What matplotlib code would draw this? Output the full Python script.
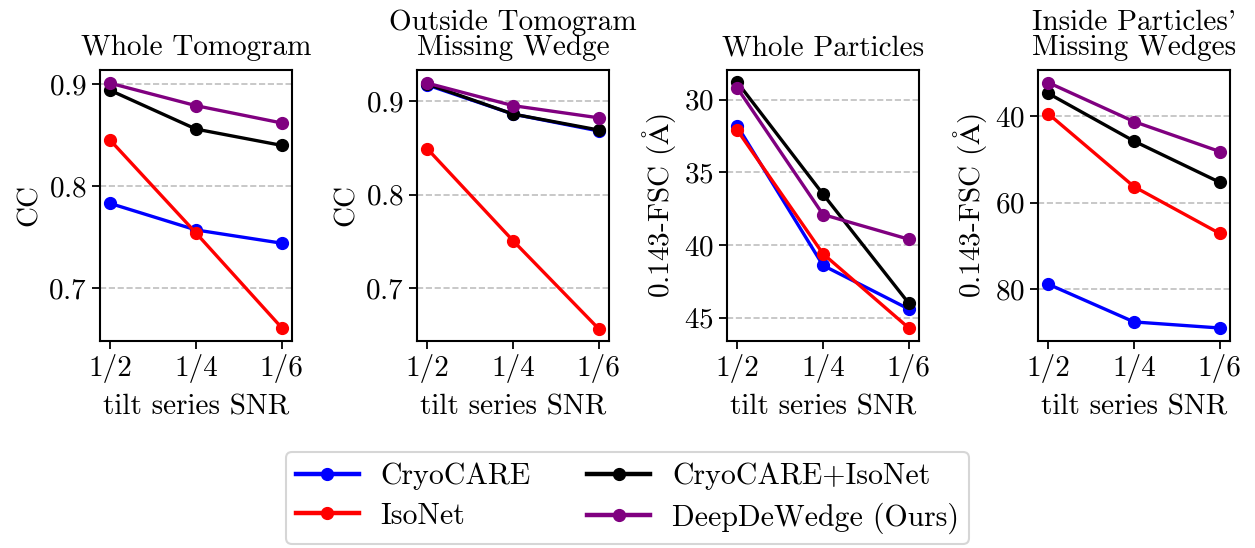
import matplotlib
matplotlib.use("Agg")
import matplotlib.pyplot as plt

plt.rcParams['font.family'] = 'serif'
plt.rcParams['font.serif'] = ['cmr10']
plt.rcParams['mathtext.fontset'] = 'cm'
plt.rcParams['axes.unicode_minus'] = False
plt.rcParams['axes.formatter.use_mathtext'] = True

snr_labels = ['1/2', '1/4', '1/6']
methods = ['CryoCARE', 'IsoNet', 'CryoCARE+IsoNet', 'DeepDeWedge (Ours)']
colors = ['blue', 'red', 'black', 'purple']

titles = ['Whole Tomogram', 'Outside Tomogram\nMissing Wedge',
          'Whole Particles', "Inside Particles'\nMissing Wedges"]
ylabels = ['CC', 'CC', r'0.143-FSC ($\mathrm{\AA}$)', r'0.143-FSC ($\mathrm{\AA}$)']

whole_tomo = {
    'CryoCARE': [0.783, 0.757, 0.744],
    'IsoNet': [0.845, 0.754, 0.661],
    'CryoCARE+IsoNet': [0.894, 0.856, 0.840],
    'DeepDeWedge (Ours)': [0.901, 0.879, 0.862],
}
outside_mw = {
    'CryoCARE': [0.917, 0.886, 0.868],
    'IsoNet': [0.849, 0.751, 0.657],
    'CryoCARE+IsoNet': [0.918, 0.886, 0.869],
    'DeepDeWedge (Ours)': [0.919, 0.895, 0.882],
}
whole_particles = {
    'CryoCARE': [31.8, 41.4, 44.4],
    'IsoNet': [32.1, 40.6, 45.7],
    'CryoCARE+IsoNet': [28.8, 36.5, 44.0],
    'DeepDeWedge (Ours)': [29.2, 37.9, 39.6],
}
inside_mw = {
    'CryoCARE': [78.8, 87.5, 88.9],
    'IsoNet': [39.5, 56.3, 67.1],
    'CryoCARE+IsoNet': [34.8, 45.8, 55.3],
    'DeepDeWedge (Ours)': [32.3, 41.3, 48.2],
}
datasets = [whole_tomo, outside_mw, whole_particles, inside_mw]
ylims = [(0.648, 0.914), (0.644, 0.933), (46.6, 27.96), (91.9, 29.4)]
yticks = [[0.7, 0.8, 0.9], [0.7, 0.8, 0.9], [30, 35, 40, 45], [40, 60, 80]]

fs = 21
fig = plt.figure(figsize=(12.55, 5.48), dpi=100)
lefts = [100, 417, 727, 1038]
W, H = 1255, 548
for i in range(4):
    ax = fig.add_axes([lefts[i] / W, 1 - 341 / H, 192 / W, 271 / H])
    x = list(range(len(snr_labels)))
    for m, c in zip(methods, colors):
        ax.plot(x, datasets[i][m], '-o', color=c, lw=2.4, ms=8.5, label=m)
    ax.set_ylim(*ylims[i])
    ax.set_yticks(yticks[i])
    ax.set_xticks(x)
    ax.set_xticklabels(snr_labels)
    ax.set_xlim(-0.12, 2.12)
    ax.yaxis.grid(True, linestyle='--', color='0.75', lw=1.2)
    ax.set_axisbelow(True)
    ax.tick_params(labelsize=fs, length=6, width=1.3)
    for s in ax.spines.values():
        s.set_linewidth(1.5)
    ax.set_title(titles[i], fontsize=fs, linespacing=0.95, pad=10.5)
    ax.set_ylabel(ylabels[i], fontsize=fs, labelpad=4)
    ax.set_xlabel('tilt series SNR', fontsize=fs, labelpad=8)
    if i == 0:
        handles, labels = ax.get_legend_handles_labels()

leg = fig.legend(handles, labels, loc='lower center', bbox_to_anchor=(0.5, -0.02),
                 ncol=2, fontsize=21.5, frameon=True, columnspacing=1.9,
                 handlelength=2.1, handletextpad=0.73, borderpad=0.35,
                 labelspacing=0.4)
leg.get_frame().set_edgecolor('0.8')
leg.get_frame().set_linewidth(1.5)
for h in leg.get_lines():
    h.set_linewidth(3.2)

fig.savefig('out.png', dpi=100)
